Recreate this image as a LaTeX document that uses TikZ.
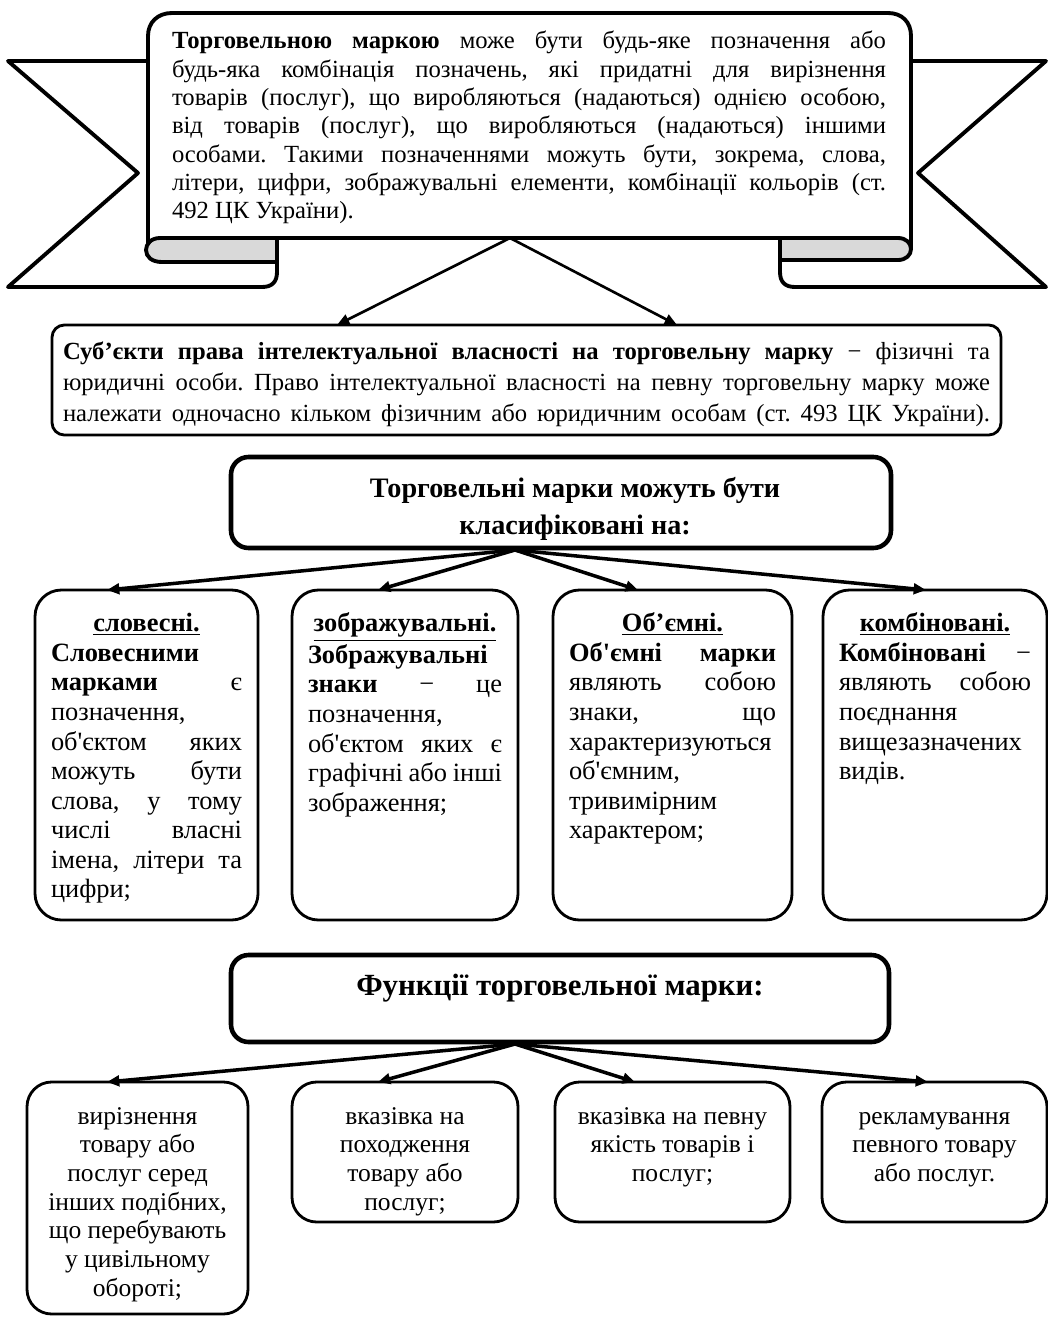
\documentclass[tikz,border=0pt]{standalone}
\usepackage{fontspec}
\setmainfont{Liberation Serif}[Ligatures=TeXOff]
\usetikzlibrary{arrows.meta}
\definecolor{foldgrey}{RGB}{217,217,217}
\newdimen\px \px=0.568pt
\newcommand\JL[1]{\hbox to\hsize{\strut #1}}
\newcommand\LL[1]{\hbox to\hsize{\strut #1\hfil}}
\newcommand\CL[1]{\hbox to\hsize{\hfil\strut #1\hfil}}
\newcommand\CLS[1]{\hbox to\hsize{\hfil\hskip28\px\strut #1\hfil}}
% height, width, top skip (px), font size, baselineskip (pt), lines
\newcommand\BT[6]{\vbox to #1\px{\hsize=#2\px\fontsize{#4}{#5}\selectfont\vskip#3\px #6\vfil}}
\begin{document}
\frenchspacing
\begin{tikzpicture}[x=0.568pt,y=-0.568pt,
  every node/.style={inner sep=0pt, outer sep=0pt, anchor=north west},
  bline/.style={line width=2.2pt, line join=round},
  sbox/.style={draw, line width=1.6pt, rounded corners=7pt, inner xsep=6.25pt},
  cbox/.style={draw, line width=1.6pt, rounded corners=15pt, inner xsep=9.1pt},
  fbox/.style={draw, line width=1.6pt, rounded corners=14pt, inner xsep=5.68pt},
  hdbox/.style={draw, line width=2.6pt, rounded corners=10pt, inner xsep=11.36pt},
  arrA/.style={line width=1.5pt, -{Triangle[length=7pt,width=6pt]}},
  arrB/.style={line width=2pt, -{Triangle[length=7pt,width=6pt]}},
]
\useasboundingbox (0,0) rectangle (1048,1318);

% ---- banner ----
\filldraw[bline, fill=white] (148,61) -- (8,61) -- (138,173) -- (8,287) -- (262,287) .. controls (272,287) and (277,282) .. (277,272) -- (277,238);
\filldraw[bline, fill=white] (911,61) -- (1046,61) -- (918,173) -- (1046,287) -- (795,287) .. controls (785,287) and (780,282) .. (780,272) -- (780,238);
\fill[white] (148,250) -- (148,36) .. controls (148,22) and (158,13) .. (172,13) -- (888,13) .. controls (902,13) and (911,22) .. (911,36) -- (911,238) -- (148,238) -- cycle;
\draw[bline] (148,250) -- (148,36) .. controls (148,22) and (158,13) .. (172,13) -- (888,13) .. controls (902,13) and (911,22) .. (911,36) -- (911,249);
\filldraw[bline, fill=foldgrey] (277,238) -- (160,238) .. controls (151,238) and (146,244) .. (146,250) .. controls (146,257) and (152,262) .. (162,262) -- (277,262) -- cycle;
\filldraw[bline, fill=foldgrey] (780,238) -- (898,238) .. controls (906,238) and (911,243) .. (911,249) .. controls (911,255) and (906,260) .. (898,260) -- (780,260) -- cycle;
\draw[bline] (160,238) -- (898,238);

\node (banner) at (172,29) {\vbox{\hsize=714\px\fontsize{14}{16.1}\selectfont
\JL{\textbf{Торговельною маркою} може бути будь-яке позначення або}
\JL{будь-яка комбінація позначень, які придатні для вирізнення}
\JL{товарів (послуг), що виробляються (надаються) однією особою,}
\JL{від товарів (послуг), що виробляються (надаються) іншими}
\JL{особами. Такими позначеннями можуть бути, зокрема, слова,}
\JL{літери, цифри, зображувальні елементи, комбінації кольорів (ст.}
\LL{492 ЦК України).}}};

% ---- subjects ----
\node[sbox] (subj) at (52,325) {\BT{110}{927}{13}{14}{17.6}{%
\JL{\textbf{Суб’єкти права інтелектуальної власності на торговельну марку} − фізичні та}
\JL{юридичні особи. Право інтелектуальної власності на певну торговельну марку може}
\JL{належати одночасно кільком фізичним або юридичним особам (ст. 493 ЦК України).}}};

\coordinate (bapex) at (510,238);
\coordinate (ts1) at (337,0);
\coordinate (ts2) at (677,0);
\draw[arrA] (bapex) -- (subj.north -| ts1);
\draw[arrA] (bapex) -- (subj.north -| ts2);

% ---- classification ----
\node[hdbox] (h1) at (231,457) {\BT{91}{620}{15}{16}{21}{\bfseries
\CLS{Торговельні марки можуть бути}
\CLS{класифіковані на:}}};

\node[cbox] (c1) at (35,590) {\BT{330}{191}{21}{15}{16.8}{%
\CL{\underline{\textbf{словесні.}}}
\LL{\textbf{Словесними}}
\JL{\textbf{марками} є}
\LL{позначення,}
\JL{об'єктом яких}
\JL{можуть бути}
\JL{слова, у тому}
\JL{числі власні}
\JL{імена, літери та}
\LL{цифри;}}};

\node[cbox] (c2) at (292,590) {\BT{330}{194}{21}{15}{16.8}{%
\CL{\underline{\textbf{зображувальні.}}}
\LL{\textbf{Зображувальні}}
\JL{\textbf{знаки} − це}
\LL{позначення,}
\JL{об'єктом яких є}
\JL{графічні або інші}
\LL{зображення;}}};

\node[cbox] (c3) at (553,590) {\BT{330}{207}{21}{15}{16.8}{%
\CL{\underline{\textbf{Об’ємні.}}}
\JL{\textbf{Об'ємні марки}}
\JL{являють собою}
\JL{знаки, що}
\LL{характеризуються}
\LL{об'ємним,}
\LL{тривимірним}
\LL{характером;}}};

\node[cbox] (c4) at (823,590) {\BT{330}{192}{21}{15}{16.8}{%
\CL{\underline{\textbf{комбіновані.}}}
\JL{\textbf{Комбіновані} −}
\JL{являють собою}
\LL{поєднання}
\LL{вищезазначених}
\LL{видів.}}};

\coordinate (capex) at (515,550);
\coordinate (tc1) at (107,0);
\coordinate (tc2) at (378,0);
\coordinate (tc3) at (638,0);
\coordinate (tc4) at (926,0);
\draw[arrB] (capex) -- (c1.north -| tc1);
\draw[arrB] (capex) -- (c2.north -| tc2);
\draw[arrB] (capex) -- (c3.north -| tc3);
\draw[arrB] (capex) -- (c4.north -| tc4);

% ---- functions ----
\node[hdbox] (h2) at (231,955) {\BT{87}{618}{15}{17.5}{21}{\bfseries
\CL{Функції торговельної марки:}}};

\node[fbox] (f1) at (27,1082) {\BT{232}{201}{22}{14.5}{16.3}{%
\CL{вирізнення}
\CL{товару або}
\CL{послуг серед}
\CL{інших подібних,}
\CL{що перебувають}
\CL{у цивільному}
\CL{обороті;}}};

\node[fbox] (f2) at (292,1082) {\BT{140}{206}{22}{14.5}{16.3}{%
\CL{вказівка на}
\CL{походження}
\CL{товару або}
\CL{послуг;}}};

\node[fbox] (f3) at (555,1082) {\BT{140}{215}{22}{14.5}{16.3}{%
\CL{вказівка на певну}
\CL{якість товарів і}
\CL{послуг;}}};

\node[fbox] (f4) at (822,1082) {\BT{140}{205}{22}{14.5}{16.3}{%
\CL{рекламування}
\CL{певного товару}
\CL{або послуг.}}};

\coordinate (fapex) at (515,1044);
\coordinate (tf1) at (107,0);
\coordinate (tf2) at (378,0);
\coordinate (tf3) at (635,0);
\coordinate (tf4) at (928,0);
\draw[arrB] (fapex) -- (f1.north -| tf1);
\draw[arrB] (fapex) -- (f2.north -| tf2);
\draw[arrB] (fapex) -- (f3.north -| tf3);
\draw[arrB] (fapex) -- (f4.north -| tf4);
\end{tikzpicture}
\end{document}
